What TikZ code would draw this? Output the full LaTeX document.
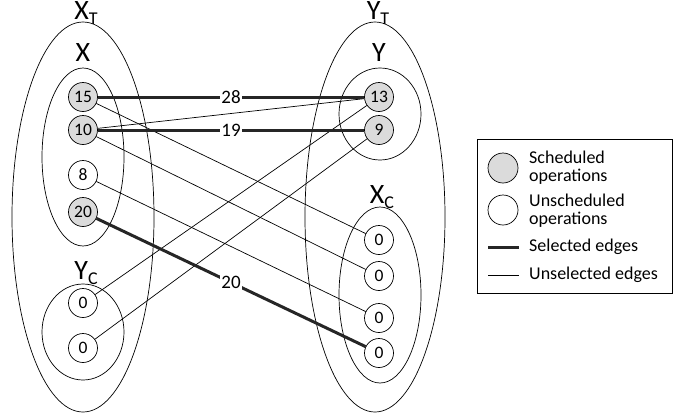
\documentclass[tikz,border=0pt]{standalone}
\usepackage{fontspec}
\setmainfont{Carlito}
\begin{document}
\begin{tikzpicture}[x=1pt,y=-1pt,
  op/.style={circle,draw,line width=0.7pt,minimum size=29pt,inner sep=0pt,font=\fontsize{17.5}{17.5}\selectfont},
  sched/.style={op,fill=black!14},
  setline/.style={line width=0.7pt},
  sel/.style={line width=3pt,draw=black!85},
  unsel/.style={line width=0.7pt},
  elabel/.style={fill=white,inner sep=1.5pt,font=\fontsize{19}{19}\selectfont},
  biglabel/.style={inner sep=0pt,font=\fontsize{28}{28}\selectfont},
  legtext/.style={anchor=west,align=left,inner sep=0pt,font=\fontsize{18}{18}\selectfont}
]
\useasboundingbox (0,0) rectangle (692,418);
% sets
\draw[setline] (83,217) ellipse [x radius=71pt, y radius=195pt];
\draw[setline] (83,157) ellipse [x radius=41pt, y radius=89pt];
\draw[setline] (83,332) ellipse [x radius=41pt, y radius=48pt];
\draw[setline] (375,217) ellipse [x radius=70pt, y radius=195pt];
\draw[setline] (380,114) ellipse [x radius=41pt, y radius=46pt];
\draw[setline] (380,295) ellipse [x radius=41pt, y radius=88pt];
% set labels
\node[biglabel] (lXT) at (86,13) {X\raisebox{-5pt}{\fontsize{18}{18}\selectfont T}};
\node[biglabel] (lX) at (83,53) {X};
\node[biglabel] (lYC) at (86,273) {Y\raisebox{-5pt}{\fontsize{18}{18}\selectfont C}};
\node[biglabel] (lYT) at (378,13) {Y\raisebox{-5pt}{\fontsize{18}{18}\selectfont T}};
\node[biglabel] (lY) at (379,53) {Y};
\node[biglabel] (lXC) at (382,197) {X\raisebox{-5pt}{\fontsize{18}{18}\selectfont C}};
% operations
\node[sched] (x15) at (83,97) {15};
\node[sched] (x10) at (83,130) {10};
\node[op] (x8) at (83,175) {8};
\node[sched] (x20) at (83,212) {20};
\node[op] (yc1) at (83,303) {0};
\node[op] (yc2) at (83,348) {0};
\node[sched] (y13) at (379,97) {13};
\node[sched] (y9) at (379,130) {9};
\node[op] (xc1) at (379,240) {0};
\node[op] (xc2) at (379,276) {0};
\node[op] (xc3) at (379,318) {0};
\node[op] (xc4) at (379,353) {0};
% edges
\draw[unsel] (x10) -- (y13);
\draw[unsel] (x15) -- (xc1);
\draw[unsel] (x10) -- (xc2);
\draw[unsel] (x8) -- (xc3);
\draw[unsel] (yc1) -- (y13);
\draw[unsel] (yc2) -- (y9);
\draw[sel] (x15) -- node[elabel] {28} (y13);
\draw[sel] (x10) -- node[elabel] {19} (y9);
\draw[sel] (x20) -- node[elabel] {20} (xc4);
% legend
\draw[line width=0.7pt] (477,139) rectangle (672,293);
\node[op,fill=black!14,minimum size=30pt] (lg1) at (503,168) {};
\node[op,minimum size=30pt] (lg2) at (503,210) {};
\coordinate (s1) at (488,247);
\coordinate (s2) at (519,247);
\coordinate (u1) at (488,275);
\coordinate (u2) at (519,275);
\draw[sel] (s1) -- (s2);
\draw[unsel] (u1) -- (u2);
\node[legtext] (t1) at (529,168) {Scheduled\\operations};
\node[legtext] (t2) at (529,211) {Unscheduled\\operations};
\node[legtext] (t3) at (529,247) {Selected edges};
\node[legtext] (t4) at (529,275) {Unselected edges};
\end{tikzpicture}
\end{document}
